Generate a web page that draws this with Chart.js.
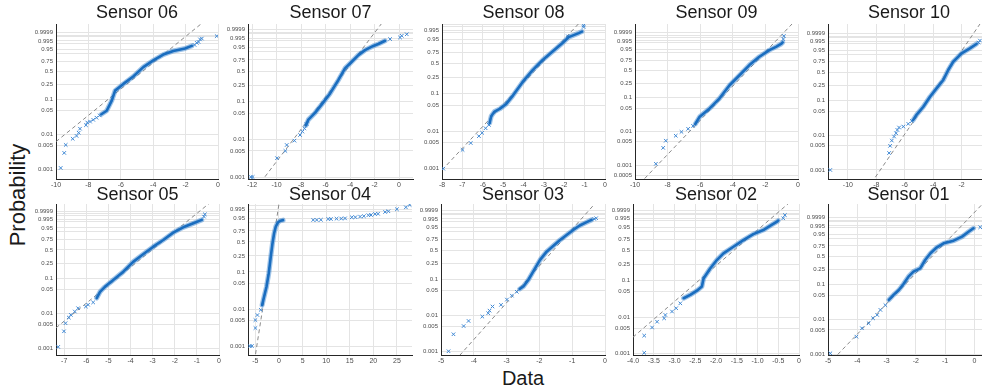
<!DOCTYPE html>
<html>
<head>
<meta charset="utf-8">
<title>Sensor probability plots</title>
<script src="https://cdn.jsdelivr.net/npm/chart.js@4.4.1/dist/chart.umd.min.js"></script>
<style>
    body { margin: 0; background: #fff; font-family: "Liberation Sans", Arial, sans-serif; }
    #wrap { position: relative; width: 982px; height: 392px; overflow: hidden; }
    #wrap canvas { position: absolute; }
    .axis-label { position: absolute; color: #1a1a1a; white-space: nowrap; }
    #yLabel { font-size: 22px; left: 18px; top: 195px; transform: translate(-50%, -50%) rotate(-90deg); }
    #xLabel { font-size: 20px; left: 523px; top: 378px; transform: translate(-50%, -50%); }
</style>
</head>
<body>
<div id="wrap">
    <div id="yLabel" class="axis-label">Probability</div>
    <div id="xLabel" class="axis-label">Data</div>
</div>
<script>
// Probability axis ticks (grid at all, labels at some)
const yGridProbs = [0.0005, 0.001, 0.005, 0.01, 0.05, 0.1, 0.25, 0.5, 0.75, 0.9, 0.95, 0.99, 0.995, 0.999, 0.9995, 0.9999];
const yLabelProbs = [0.0005, 0.001, 0.005, 0.01, 0.05, 0.1, 0.25, 0.5, 0.75, 0.95, 0.995, 0.9999];

// Sensor data: [data value, probability]
const sensor06Sparse = [[-9.71, 0.0011], [-9.49, 0.003], [-9.40, 0.0051], [-8.97, 0.0077], [-8.73, 0.0093], [-8.60, 0.0115],
    [-8.52, 0.015], [-8.15, 0.019], [-8.07, 0.0226], [-7.9, 0.024], [-7.7, 0.027], [-7.5, 0.031], [-7.3, 0.036],
    [-1.45, 0.983], [-1.31, 0.9906], [-1.2, 0.993], [-1.11, 0.9972], [-1.0, 0.998], [-0.08, 0.99933]];
const sensor06Dense = [[-7.2, 0.039], [-6.87, 0.049], [-6.56, 0.094], [-6.35, 0.175], [-5.84, 0.26], [-5.23, 0.39],
    [-4.61, 0.604], [-3.99, 0.767], [-3.38, 0.882], [-2.76, 0.934], [-2.04, 0.959], [-1.62, 0.978]];
const sensor06Ref = [[-9.48, 0.01], [-3.29, 0.9]];

const sensor07Sparse = [[-12.1, 0.001], [-11.95, 0.001], [-9.96, 0.0032], [-9.28, 0.005], [-9.17, 0.0072], [-8.54, 0.0094],
    [-8.08, 0.0133], [-7.89, 0.0164], [-7.72, 0.02], [-7.55, 0.026],
    [-0.73, 0.9933], [0.08, 0.996], [0.22, 0.9978], [0.63, 0.9988]];
const sensor07Dense = [[-7.6, 0.024], [-7.40, 0.034], [-6.86, 0.051], [-6.31, 0.085], [-5.63, 0.16], [-4.95, 0.33],
    [-4.41, 0.559], [-3.86, 0.708], [-3.32, 0.844], [-2.78, 0.92], [-2.10, 0.962], [-1.69, 0.975], [-1.14, 0.989]];
const sensor07Ref = [[-8.64, 0.01], [-3.17, 0.9]];

const sensor08Sparse = [[-7.94, 0.001], [-6.99, 0.0032], [-6.59, 0.0049], [-6.19, 0.0075], [-6.03, 0.0092], [-5.86, 0.0122],
    [-5.70, 0.015], [-1.82, 0.975], [-1.05, 0.9986], [-1.05, 0.9993]];
const sensor08Dense = [[-5.66, 0.017], [-5.64, 0.019], [-5.58, 0.026], [-5.42, 0.034], [-5.17, 0.040], [-4.85, 0.054],
    [-4.52, 0.089], [-4.05, 0.193], [-3.56, 0.36], [-3.07, 0.567], [-2.59, 0.756], [-2.10, 0.909], [-1.78, 0.970],
    [-1.29, 0.989], [-1.13, 0.9929]];
const sensor08Ref = [[-6.23, 0.01], [-2.22, 0.9]];

const sensor09Sparse = [[-8.72, 0.0011], [-8.27, 0.0033], [-8.11, 0.0054], [-7.50, 0.0076], [-7.15, 0.0099], [-6.74, 0.0122],
    [-6.44, 0.0149], [-0.9, 0.9975], [-0.87, 0.9994]];
const sensor09Dense = [[-6.3, 0.017], [-6.03, 0.028], [-5.42, 0.049], [-4.81, 0.096], [-4.20, 0.22], [-3.59, 0.39],
    [-2.98, 0.632], [-2.37, 0.83], [-1.76, 0.939], [-1.35, 0.970], [-1.04, 0.986], [-0.94, 0.9914]];
const sensor09Ref = [[-6.67, 0.01], [-2.06, 0.9]];

const sensor10Sparse = [[-11.24, 0.001], [-7.10, 0.0031], [-7.03, 0.005], [-6.91, 0.0071], [-6.75, 0.0093], [-6.61, 0.0116],
    [-6.52, 0.0144], [-6.40, 0.0169], [-6.10, 0.018], [-5.75, 0.0215], [-5.5, 0.026], [-0.8, 0.993], [-0.71, 0.9965]];
const sensor10Dense = [[-5.40, 0.028], [-5.17, 0.039], [-4.69, 0.066], [-4.22, 0.125], [-3.75, 0.21], [-3.29, 0.334],
    [-2.94, 0.547], [-2.59, 0.748], [-2.0, 0.911], [-1.42, 0.966], [-0.95, 0.989]];
const sensor10Ref = [[-6.06, 0.01], [-2.15, 0.9]];

const sensor05Sparse = [[-7.27, 0.0011], [-7.01, 0.0031], [-6.94, 0.0053], [-6.79, 0.0077], [-6.70, 0.0092], [-6.52, 0.0115],
    [-6.37, 0.0143], [-6.02, 0.016], [-5.92, 0.018], [-5.69, 0.021], [-0.68, 0.9983], [-0.64, 0.9994]];
const sensor05Dense = [[-5.53, 0.028], [-5.38, 0.042], [-5.16, 0.058], [-4.78, 0.090], [-4.33, 0.15], [-3.88, 0.27],
    [-3.43, 0.406], [-2.97, 0.578], [-2.52, 0.74], [-2.07, 0.888], [-1.62, 0.956], [-1.16, 0.983], [-0.78, 0.994]];
const sensor05Ref = [[-6.58, 0.01], [-2.03, 0.9]];

const sensor04Sparse = [[-6.2, 0.001], [-5.75, 0.001], [-5.0, 0.0031], [-5.0, 0.0051], [-4.57, 0.007], [-3.87, 0.0097],
    [7.26, 0.937], [8.0, 0.937], [8.89, 0.939], [10.45, 0.947], [11.0, 0.947], [12.2, 0.95], [13.2, 0.951], [14.0, 0.953],
    [15.43, 0.962], [16.2, 0.963], [17.2, 0.967], [18.0, 0.97], [18.96, 0.976], [19.5, 0.977], [20.38, 0.982], [21.0, 0.983],
    [22.5, 0.9896], [23.2, 0.9916], [25.0, 0.9956], [26.9, 0.9978], [27.7, 0.9992]];
const sensor04Dense = [[-3.58, 0.013], [-3.16, 0.022], [-2.66, 0.040], [-2.17, 0.092], [-1.74, 0.24], [-1.38, 0.47],
    [-1.03, 0.698], [-0.67, 0.84], [-0.19, 0.909], [0.32, 0.929], [0.87, 0.935]];
const sensor04Ref = [[-3.49, 0.01], [-0.63, 0.9]];

const sensor03Sparse = [[-4.77, 0.001], [-4.62, 0.003], [-4.31, 0.0051], [-4.16, 0.0071], [-3.74, 0.0094], [-3.56, 0.0117],
    [-3.52, 0.0138], [-3.43, 0.018], [-3.17, 0.020], [-2.99, 0.028], [-2.84, 0.036], [-2.69, 0.046],
    [-0.33, 0.995], [-0.27, 0.996]];
const sensor03Dense = [[-2.6, 0.055], [-2.49, 0.064], [-2.34, 0.096], [-2.19, 0.16], [-1.98, 0.31], [-1.78, 0.469],
    [-1.58, 0.60], [-1.37, 0.741], [-1.17, 0.846], [-0.97, 0.925], [-0.77, 0.968], [-0.56, 0.986], [-0.41, 0.993]];
const sensor03Ref = [[-3.35, 0.01], [-1.07, 0.9]];

const sensor02Sparse = [[-3.73, 0.00104], [-3.73, 0.0031], [-3.54, 0.0052], [-3.42, 0.0075], [-3.25, 0.0093], [-3.22, 0.0115],
    [-3.06, 0.0143], [-2.96, 0.0176], [-2.86, 0.024], [-0.38, 0.9958], [-0.34, 0.9988]];
const sensor02Dense = [[-2.78, 0.033], [-2.62, 0.041], [-2.46, 0.053], [-2.34, 0.068], [-2.30, 0.112], [-2.14, 0.20],
    [-1.98, 0.318], [-1.82, 0.444], [-1.58, 0.591], [-1.34, 0.744], [-1.10, 0.864], [-0.86, 0.925], [-0.66, 0.972],
    [-0.54, 0.987], [-0.50, 0.9911]];
const sensor02Ref = [[-3.44, 0.01], [-1.05, 0.9]];

const sensor01Sparse = [[-4.92, 0.00105], [-4.03, 0.0032], [-3.84, 0.0056], [-3.61, 0.0078], [-3.46, 0.0109], [-3.32, 0.0136],
    [-3.21, 0.019], [-3.04, 0.026], [0.20, 0.992]];
const sensor01Dense = [[-2.92, 0.037], [-2.76, 0.051], [-2.58, 0.070], [-2.42, 0.103], [-2.25, 0.163], [-2.08, 0.22],
    [-1.85, 0.266], [-1.68, 0.418], [-1.50, 0.571], [-1.28, 0.717], [-1.05, 0.808], [-0.71, 0.86], [-0.42, 0.924],
    [-0.20, 0.972], [-0.03, 0.989]];
const sensor01Ref = [[-3.52, 0.01], [-0.85, 0.9]];

// Extreme value probability scale
const ev = p => Math.log(-Math.log(1 - p));
const toPoints = list => list.map(([x, p]) => ({ x, y: ev(p) }));

function refLine(ref, xMin, xMax) {
    const [[x1, p1], [x2, p2]] = ref;
    const k = (ev(p2) - ev(p1)) / (x2 - x1);
    return [xMin, xMax].map(x => ({ x, y: ev(p1) + k * (x - x1) }));
}

// Panel layout: box = [left, top, right, bottom] of plot area
const panels = [
    { title: 'Sensor 06', sparse: sensor06Sparse, dense: sensor06Dense, ref: sensor06Ref, x: [-10, 0], step: 2, y: [-7.55, 2.80], box: [56, 24, 218, 179], gap: 2 },
    { title: 'Sensor 07', sparse: sensor07Sparse, dense: sensor07Dense, ref: sensor07Ref, x: [-12.33, 1.14], step: 2, y: [-7.03, 2.54], box: [248, 24, 413, 179], gap: 2 },
    { title: 'Sensor 08', sparse: sensor08Sparse, dense: sensor08Dense, ref: sensor08Ref, x: [-8, 0], step: 1, y: [-7.55, 2.07], box: [442, 24, 605, 179], gap: 2 },
    { title: 'Sensor 09', sparse: sensor09Sparse, dense: sensor09Dense, ref: sensor09Ref, x: [-10, 0], step: 2, y: [-7.86, 2.83], box: [635, 24, 798, 179], gap: 2 },
    { title: 'Sensor 10', sparse: sensor10Sparse, dense: sensor10Dense, ref: sensor10Ref, x: [-11.4, 0], step: 2, y: [-7.51, 2.84], box: [828, 24, 990, 179], gap: 2 },
    { title: 'Sensor 05', sparse: sensor05Sparse, dense: sensor05Dense, ref: sensor05Ref, x: [-7.37, 0], step: 1, y: [-7.35, 2.69], box: [56, 204, 219, 355], gap: 0 },
    { title: 'Sensor 04', sparse: sensor04Sparse, dense: sensor04Dense, ref: sensor04Ref, x: [-6.57, 28.2], step: 5, y: [-7.47, 2.02], box: [248, 204, 412, 355], gap: 0 },
    { title: 'Sensor 03', sparse: sensor03Sparse, dense: sensor03Dense, ref: sensor03Ref, x: [-5, 0], step: 1, y: [-7.15, 2.63], box: [441, 204, 605, 355], gap: 0 },
    { title: 'Sensor 02', sparse: sensor02Sparse, dense: sensor02Dense, ref: sensor02Ref, x: [-4, 0], step: 0.5, y: [-7.01, 2.61], box: [633, 204, 799, 355], gap: 0 },
    { title: 'Sensor 01', sparse: sensor01Sparse, dense: sensor01Dense, ref: sensor01Ref, x: [-5, 0.5], step: 1, y: [-6.97, 3.13], box: [828, 204, 989, 355], gap: 0 }
];

const FONT = '"Liberation Sans", Arial, sans-serif';
const GRID = '#e4e4e4';
const AXIS = '#262626';
const wrap = document.getElementById('wrap');

panels.forEach(panel => {
    const [left, top, right, bottom] = panel.box;
    const titleH = 18 + panel.gap;
    const canvas = document.createElement('canvas');
    canvas.width = right - left + 50;
    canvas.height = bottom - top + titleH + 16;
    canvas.style.left = (left - 40) + 'px';
    canvas.style.top = (top - titleH) + 'px';
    wrap.appendChild(canvas);

    new Chart(canvas, {
        type: 'scatter',
        data: {
            datasets: [
                // dense core of the marker band
                {
                    data: toPoints(panel.dense),
                    showLine: true,
                    borderColor: '#1a6dbf',
                    borderWidth: 2.6,
                    borderCapStyle: 'round',
                    borderJoinStyle: 'round',
                    pointRadius: 0
                },
                // soft edge of the band
                {
                    data: toPoints(panel.dense),
                    showLine: true,
                    borderColor: 'rgba(45, 125, 205, 0.45)',
                    borderWidth: 5,
                    borderCapStyle: 'round',
                    borderJoinStyle: 'round',
                    pointRadius: 0
                },
                {
                    data: toPoints(panel.sparse),
                    pointStyle: 'crossRot',
                    pointRadius: 2.5,
                    borderWidth: 1,
                    borderColor: '#3f88d4'
                },
                {
                    data: refLine(panel.ref, panel.x[0], panel.x[1]),
                    showLine: true,
                    borderColor: '#8a8a8a',
                    borderWidth: 1,
                    borderDash: [4, 3],
                    pointRadius: 0
                }
            ]
        },
        options: {
            responsive: false,
            animation: false,
            events: [],
            layout: { padding: { left: 0, right: 10, top: 0, bottom: 2 } },
            plugins: {
                legend: { display: false },
                tooltip: { enabled: false },
                title: {
                    display: true,
                    text: panel.title,
                    fullSize: false,
                    color: '#1a1a1a',
                    font: { family: FONT, size: 18, weight: 'normal', lineHeight: 1 },
                    padding: { top: 0, bottom: panel.gap }
                }
            },
            scales: {
                x: {
                    type: 'linear',
                    min: panel.x[0],
                    max: panel.x[1],
                    ticks: {
                        stepSize: panel.step,
                        includeBounds: false,
                        autoSkip: false,
                        maxRotation: 0,
                        padding: 2,
                        color: '#4d4d4d',
                        font: { family: FONT, size: 7 }
                    },
                    grid: { color: GRID, drawTicks: false },
                    border: { color: AXIS, width: 1 },
                    afterFit: s => { s.height = 14; s.paddingLeft = 0; s.paddingRight = 0; }
                },
                y: {
                    type: 'linear',
                    min: panel.y[0],
                    max: panel.y[1],
                    afterBuildTicks: s => {
                        s.ticks = yGridProbs
                            .filter(p => ev(p) >= panel.y[0] && ev(p) <= panel.y[1])
                            .map(p => ({ value: ev(p), p: p }));
                    },
                    ticks: {
                        autoSkip: false,
                        padding: 3,
                        color: '#4d4d4d',
                        font: { family: FONT, size: 6 },
                        callback: (v, i, ticks) => yLabelProbs.includes(ticks[i].p) ? String(ticks[i].p) : ''
                    },
                    grid: { color: GRID, drawTicks: false },
                    border: { color: AXIS, width: 1 },
                    afterFit: s => { s.width = 40; s.paddingTop = 0; s.paddingBottom = 0; }
                }
            }
        }
    });
});
</script>
</body>
</html>
